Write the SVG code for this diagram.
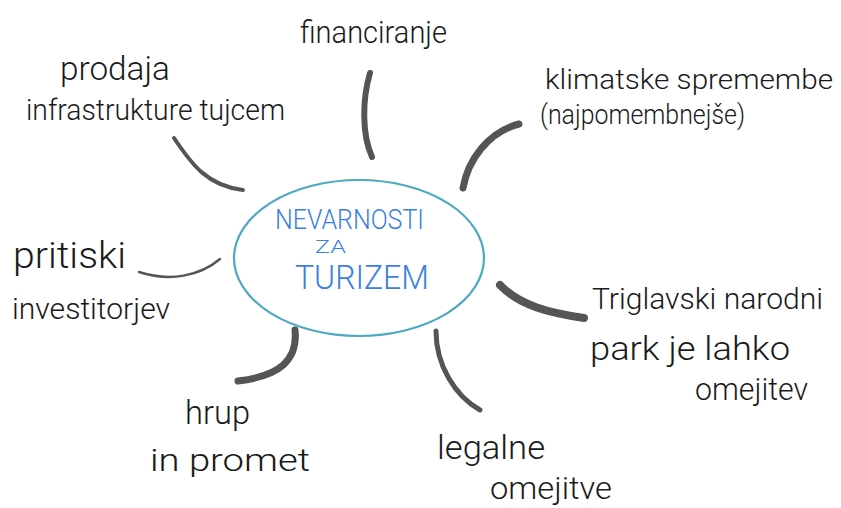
<svg xmlns="http://www.w3.org/2000/svg" width="841" height="508" viewBox="0 0 841 508">
  <style>
    .lbl { font-family: Roboto, "Liberation Sans", sans-serif; font-weight: 300; fill: #1a1a1a; }
    .hub { font-family: Roboto, "Liberation Sans", sans-serif; font-weight: 300; fill: #3b7fe0; }
    .link { fill: none; stroke: #555555; stroke-linecap: round; stroke-linejoin: round; }
  </style>
  <rect width="841" height="508" fill="#ffffff"/>

  <g id="connectors">
    <path class="link" stroke-width="6" d="M370,73 C362,100 362,135 372,157"/>
    <path class="link" stroke-width="4" d="M174,138 C192,165 208,186 243,190"/>
    <path class="link" stroke-width="7" d="M519,124 C488,132 468,160 463,188"/>
    <path class="link" stroke-width="2.5" d="M139,272 C170,282 200,276 220,259"/>
    <path class="link" stroke-width="8" d="M500,285 C520,306 550,313 584,318"/>
    <path class="link" stroke-width="7" d="M295,330 C298,360 280,376 238,381"/>
    <path class="link" stroke-width="5" d="M436,331 C436,365 455,396 480,410"/>
  </g>

  <g id="center">
    <ellipse cx="359" cy="258" rx="125" ry="78" fill="none" stroke="#4ba9c2" stroke-width="2.2"/>
    <text class="hub" x="275" y="229" font-size="28" textLength="149" lengthAdjust="spacingAndGlyphs">NEVARNOSTI</text>
    <text class="hub" x="315" y="253" font-size="19" textLength="31" lengthAdjust="spacingAndGlyphs">ZA</text>
    <text class="hub" x="295" y="289" font-size="33" textLength="134" lengthAdjust="spacingAndGlyphs">TURIZEM</text>
  </g>

  <g id="financiranje">
    <text class="lbl" x="300" y="43" font-size="32" textLength="147" lengthAdjust="spacingAndGlyphs">financiranje</text>
  </g>

  <g id="prodaja">
    <text class="lbl" x="60" y="80" font-size="34" textLength="110" lengthAdjust="spacingAndGlyphs">prodaja</text>
    <text class="lbl" x="26" y="120" font-size="29" textLength="259" lengthAdjust="spacingAndGlyphs">infrastrukture tujcem</text>
  </g>

  <g id="klimatske">
    <text class="lbl" x="545" y="89" font-size="28" textLength="288" lengthAdjust="spacingAndGlyphs">klimatske spremembe</text>
    <text class="lbl" x="540" y="124" font-size="27" textLength="205" lengthAdjust="spacingAndGlyphs">(najpomembnejše)</text>
  </g>

  <g id="pritiski">
    <text class="lbl" x="13" y="268" font-size="36" textLength="113" lengthAdjust="spacingAndGlyphs">pritiski</text>
    <text class="lbl" x="12" y="319" font-size="29" textLength="158" lengthAdjust="spacingAndGlyphs">investitorjev</text>
  </g>

  <g id="triglavski">
    <text class="lbl" x="592" y="309" font-size="30" textLength="231" lengthAdjust="spacingAndGlyphs">Triglavski narodni</text>
    <text class="lbl" x="590" y="360" font-size="33" textLength="200" lengthAdjust="spacingAndGlyphs">park je lahko</text>
    <text class="lbl" x="695" y="400" font-size="31" textLength="113" lengthAdjust="spacingAndGlyphs">omejitev</text>
  </g>

  <g id="hrup">
    <text class="lbl" x="185" y="424" font-size="33" textLength="65" lengthAdjust="spacingAndGlyphs">hrup</text>
    <text class="lbl" x="150" y="471" font-size="32" textLength="160" lengthAdjust="spacingAndGlyphs">in promet</text>
  </g>

  <g id="legalne">
    <text class="lbl" x="437" y="459" font-size="33" textLength="108" lengthAdjust="spacingAndGlyphs">legalne</text>
    <text class="lbl" x="490" y="499" font-size="31" textLength="122" lengthAdjust="spacingAndGlyphs">omejitve</text>
  </g>
</svg>
